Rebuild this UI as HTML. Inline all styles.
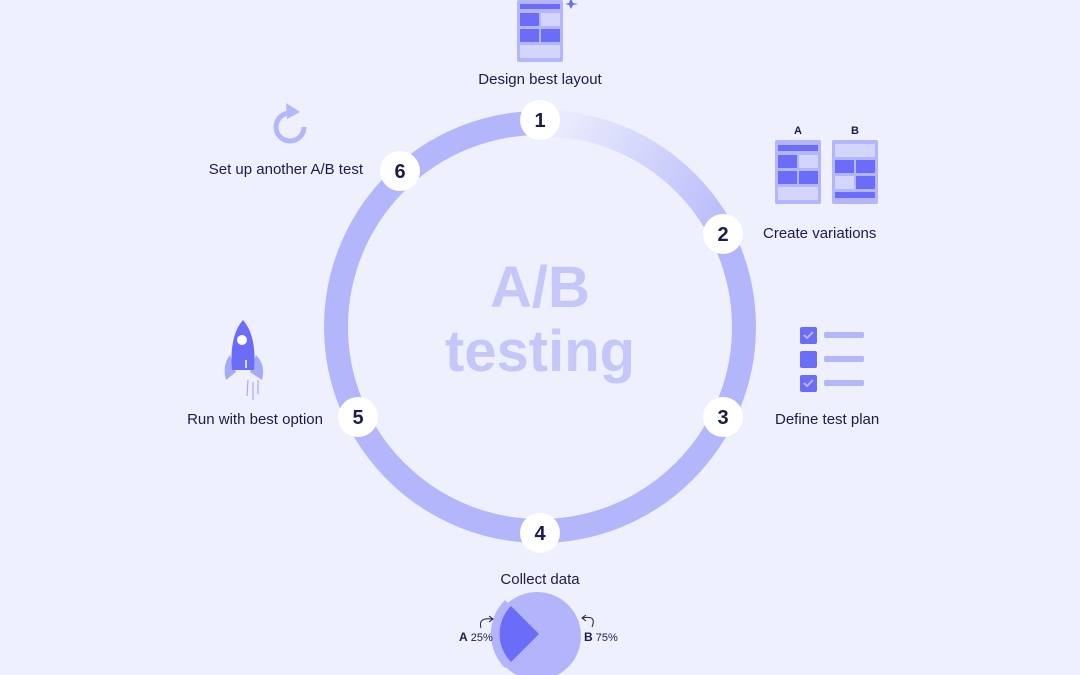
<!DOCTYPE html>
<html><head><meta charset="utf-8"><style>
html,body{margin:0;padding:0;background:#eef0fd;}
svg{display:block;}
text{font-family:"Liberation Sans",sans-serif;}
</style></head><body>
<svg width="1080" height="675" viewBox="0 0 1080 675" xmlns="http://www.w3.org/2000/svg">
<defs>
<linearGradient id="g1" x1="540" y1="120" x2="740" y2="240" gradientUnits="userSpaceOnUse">
<stop offset="0" stop-color="#eef0fd"/><stop offset="1" stop-color="#b4b6fb"/>
</linearGradient>
</defs>
<rect width="1080" height="675" fill="#eef0fd"/>
<circle cx="540" cy="327" r="204" fill="none" stroke="#b4b6fb" stroke-width="24"/>
<path d="M540 123 A204 204 0 0 1 723 234" fill="none" stroke="url(#g1)" stroke-width="26"/>
<text x="540" y="307" text-anchor="middle" font-size="58" font-weight="bold" fill="#c5c7f8">A/B</text>
<text x="540" y="371" text-anchor="middle" font-size="58" font-weight="bold" fill="#c5c7f8">testing</text>
<g font-size="20" font-weight="bold" fill="#1b1c4a" text-anchor="middle">
<circle cx="540" cy="120" r="20" fill="#fff"/><text x="540" y="127">1</text>
<circle cx="723" cy="234" r="20" fill="#fff"/><text x="723" y="241">2</text>
<circle cx="723" cy="417" r="20" fill="#fff"/><text x="723" y="424">3</text>
<circle cx="540" cy="533" r="20" fill="#fff"/><text x="540" y="540">4</text>
<circle cx="358" cy="417" r="20" fill="#fff"/><text x="358" y="424">5</text>
<circle cx="400" cy="171" r="20" fill="#fff"/><text x="400" y="178">6</text>
</g>
<g font-size="15" fill="#1b1c4a">
<text x="540" y="84" text-anchor="middle">Design best layout</text>
<text x="763" y="238">Create variations</text>
<text x="775" y="424">Define test plan</text>
<text x="540" y="584" text-anchor="middle">Collect data</text>
<text x="323" y="424" text-anchor="end">Run with best option</text>
<text x="363" y="174" text-anchor="end">Set up another A/B test</text>
</g>
<rect x="517" y="0" width="46" height="62" rx="2" fill="#b4b6fb"/>
<rect x="520" y="4" width="40" height="5" fill="#6b6cf8"/>
<rect x="520" y="13" width="19" height="13" fill="#6b6cf8"/>
<rect x="541" y="13" width="19" height="13" fill="#d4d5fc"/>
<rect x="520" y="29" width="19" height="13" fill="#6b6cf8"/>
<rect x="541" y="29" width="19" height="13" fill="#6b6cf8"/>
<rect x="520" y="45" width="40" height="13" fill="#d4d5fc"/>
<path d="M571 -2 L573 3 L578 4 L573 5 L571 9 L569 5 L565 4 L569 3Z" fill="#6b6cf8"/>
<text x="798" y="134" text-anchor="middle" font-size="11" font-weight="bold" fill="#1b1c4a">A</text>
<text x="855" y="134" text-anchor="middle" font-size="11" font-weight="bold" fill="#1b1c4a">B</text>
<rect x="775" y="140" width="46" height="64" rx="2" fill="#b4b6fb"/>
<rect x="778" y="145" width="40" height="6" fill="#6b6cf8"/>
<rect x="778" y="155" width="19" height="13" fill="#6b6cf8"/>
<rect x="799" y="155" width="19" height="13" fill="#d4d5fc"/>
<rect x="778" y="171" width="19" height="13" fill="#6b6cf8"/>
<rect x="799" y="171" width="19" height="13" fill="#6b6cf8"/>
<rect x="778" y="187" width="40" height="13" fill="#d4d5fc"/>
<rect x="832" y="140" width="46" height="64" rx="2" fill="#b4b6fb"/>
<rect x="835" y="144" width="40" height="13" fill="#d4d5fc"/>
<rect x="835" y="160" width="19" height="13" fill="#6b6cf8"/>
<rect x="856" y="160" width="19" height="13" fill="#6b6cf8"/>
<rect x="835" y="176" width="19" height="13" fill="#d4d5fc"/>
<rect x="856" y="176" width="19" height="13" fill="#6b6cf8"/>
<rect x="835" y="192" width="40" height="6" fill="#6b6cf8"/>
<g>
<rect x="800" y="327" width="17" height="17" rx="2" fill="#6b6cf8"/>
<path d="M804 335 l3 3 l6 -6" stroke="#b4b6fb" stroke-width="2" fill="none"/>
<rect x="824" y="332" width="40" height="6" rx="2" fill="#b4b6fb"/>
<rect x="800" y="351" width="17" height="17" rx="2" fill="#6b6cf8"/>
<rect x="824" y="356" width="40" height="6" rx="2" fill="#b4b6fb"/>
<rect x="800" y="375" width="17" height="17" rx="2" fill="#6b6cf8"/>
<path d="M804 383 l3 3 l6 -6" stroke="#b4b6fb" stroke-width="2" fill="none"/>
<rect x="824" y="380" width="40" height="6" rx="2" fill="#b4b6fb"/>
</g>
<g>
<path d="M230 355 Q222 365 226 380 L236 372Z" fill="#a6a8f8"/>
<path d="M256 355 Q266 365 262 380 L250 372Z" fill="#a6a8f8"/>
<path d="M243 320 Q229 336 232 370 L254 370 Q257 336 243 320Z" fill="#6b6cf8"/>
<circle cx="242" cy="340" r="5" fill="#fff"/>
<line x1="246" y1="360" x2="246" y2="368" stroke="#fff" stroke-width="1.5"/>
<g stroke="#a6a8f8" stroke-width="1.2"><line x1="248" y1="380" x2="247" y2="396"/><line x1="253" y1="382" x2="253" y2="400"/><line x1="258" y1="380" x2="258" y2="394"/></g>
</g>
<path d="M290 113 A14 14 0 1 0 304 127" fill="none" stroke="#b4b6fb" stroke-width="5"/>
<path d="M286 103 L300 112 L287 119Z" fill="#b4b6fb"/>
<circle cx="537" cy="636" r="44" fill="#b3b4fb"/>
<path d="M539 634 L505 600 A48 48 0 0 0 505 668Z" fill="#b3b4fb"/>
<path d="M539 634 L511 606 A40 40 0 0 0 511 662Z" fill="#6b6cf8"/>
<text x="459" y="641" font-size="11" fill="#1b1c4a"><tspan font-weight="bold" font-size="12">A</tspan> 25%</text>
<text x="584" y="641" font-size="11" fill="#1b1c4a"><tspan font-weight="bold" font-size="12">B</tspan> 75%</text>
<path d="M481 628 Q478 617 492 619" fill="none" stroke="#1b1c4a" stroke-width="1"/>
<path d="M489 616 L493 619 L489 622" fill="none" stroke="#1b1c4a" stroke-width="1"/>
<path d="M592 627 Q597 615 583 618" fill="none" stroke="#1b1c4a" stroke-width="1"/>
<path d="M586 615 L582 618 L586 621" fill="none" stroke="#1b1c4a" stroke-width="1"/>
</svg>
</body></html>
